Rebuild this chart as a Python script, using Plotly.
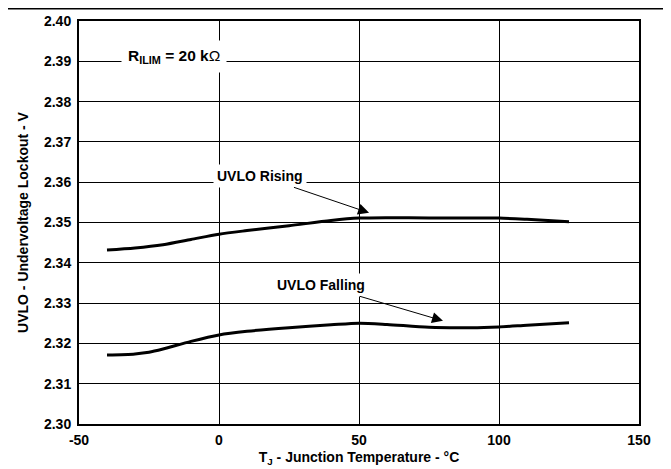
import plotly.graph_objects as go

temp_rising = [-40, -30, -20, -10, 0, 10, 25, 40, 50, 60, 75, 90, 100, 110, 125]
uvlo_rising = [2.3432, 2.3437, 2.3445, 2.3458, 2.3471, 2.3480, 2.3492, 2.3505, 2.3511, 2.3512, 2.3511, 2.3511, 2.3511, 2.3508, 2.3502]

temp_falling = [-40, -30, -25, -20, -10, 0, 10, 25, 40, 50, 60, 75, 90, 100, 110, 125]
uvlo_falling = [2.3171, 2.3174, 2.3178, 2.3186, 2.3205, 2.3221, 2.3230, 2.3239, 2.3246, 2.3250, 2.3247, 2.3240, 2.3239, 2.3241, 2.3245, 2.3251]

x_ticks = [-50, 0, 50, 100, 150]
y_ticks = [2.30, 2.31, 2.32, 2.33, 2.34, 2.35, 2.36, 2.37, 2.38, 2.39, 2.40]

FONT = "Liberation Sans, Arial, sans-serif"
W, H = 663, 461
L, R, T, B = 71, 32, 13, 45
PH = H - T - B
PW = W - L - R

fig = go.Figure()
for xs, ys in ((temp_rising, uvlo_rising), (temp_falling, uvlo_falling)):
    fig.add_trace(go.Scatter(x=xs, y=ys, mode="lines",
                             line=dict(color="black", width=3, shape="spline", smoothing=0.8),
                             showlegend=False, hoverinfo="skip"))

fig.update_layout(
    width=W, height=H,
    margin=dict(l=L, r=R, t=T, b=B, autoexpand=False),
    paper_bgcolor="white", plot_bgcolor="white",
    font=dict(family=FONT, color="black", size=14),
    xaxis=dict(range=[-50, 150], tickvals=x_ticks, ticktext=[f"<b>{v}</b>" for v in x_ticks],
               showgrid=True, gridcolor="black", gridwidth=1, zeroline=False,
               showline=True, linecolor="black", linewidth=2, mirror=True, automargin=False,
               ticks="", ticklabelstandoff=2, tickfont=dict(size=14, family=FONT),
               title=dict(text="<b>T<sub>J</sub> - Junction Temperature - °C</b>", standoff=5,
                          font=dict(size=14, family=FONT))),
    yaxis=dict(range=[2.30, 2.40], tickvals=y_ticks, ticktext=[f"<b>{v:.2f}</b>" for v in y_ticks],
               showgrid=True, gridcolor="black", gridwidth=1, zeroline=False,
               showline=True, linecolor="black", linewidth=2, mirror=True, automargin=False,
               ticks="", ticklabelstandoff=3, tickfont=dict(size=14, family=FONT),
               title=dict(text="<b>UVLO - Undervoltage Lockout - V</b>", standoff=12,
                          font=dict(size=14, family=FONT))),
)

# top rule line across the page
fig.add_shape(type="line", xref="paper", yref="paper",
              x0=-L / PW, x1=1 + R / PW, y0=1 + (T - 0.5) / PH, y1=1 + (T - 0.5) / PH,
              line=dict(color="black", width=2))

fig.add_annotation(x=-16.1, y=2.3911, xref="x", yref="y",
                   text="<b>R<sub>ILIM</sub> = 20 k</b>Ω", showarrow=False,
                   bgcolor="white", borderpad=6, font=dict(size=15.5, family=FONT))

fig.add_annotation(x=53.6, y=2.3524, xref="x", yref="y", text="<b>UVLO Rising</b>",
                   showarrow=True, arrowhead=2, arrowsize=2.2, arrowwidth=1, arrowcolor="black",
                   ax=-109, ay=-37, bgcolor="white", borderpad=3, font=dict(size=14, family=FONT))

fig.add_annotation(x=80, y=2.3256, xref="x", yref="y", text="<b>UVLO Falling</b>",
                   showarrow=True, arrowhead=2, arrowsize=2.2, arrowwidth=1, arrowcolor="black",
                   ax=-122, ay=-36, bgcolor="white", borderpad=3, font=dict(size=14, family=FONT))

fig.write_html("out.html")
